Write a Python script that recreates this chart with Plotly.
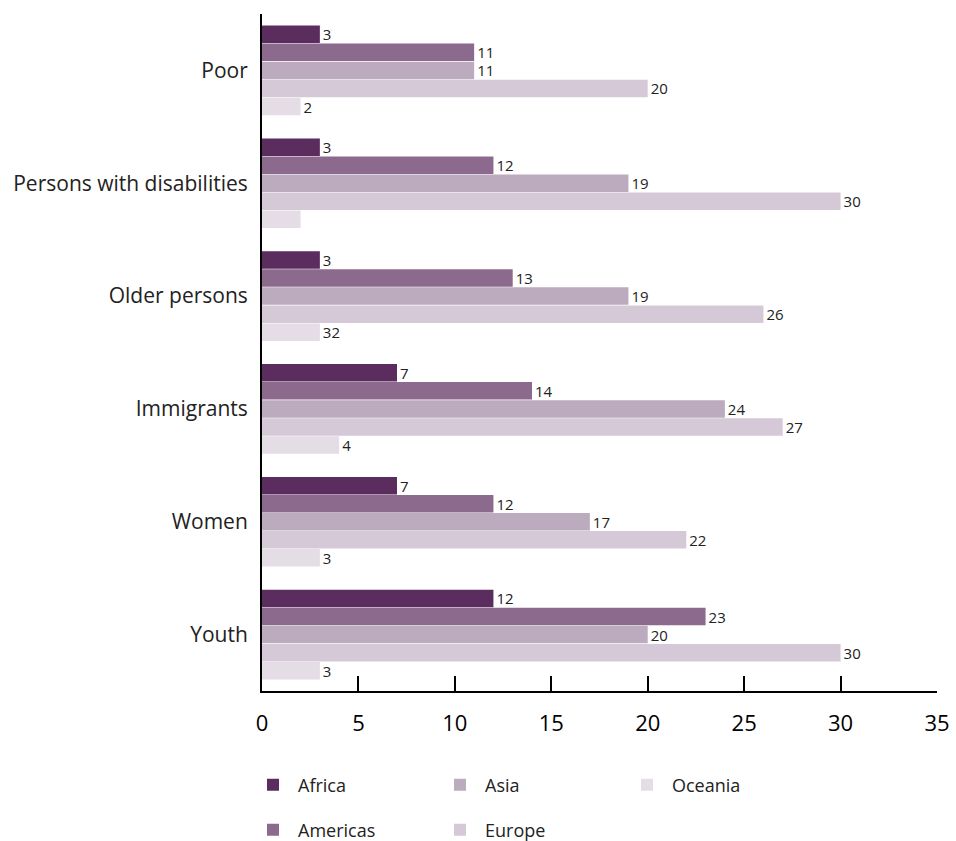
import plotly.graph_objects as go

categories = ["Poor", "Persons with disabilities", "Older persons", "Immigrants", "Women", "Youth"]
regions = ["Africa", "Americas", "Asia", "Europe", "Oceania"]
africa = [3, 3, 3, 7, 7, 12]
americas = [11, 12, 13, 14, 12, 23]
asia = [11, 19, 19, 24, 17, 20]
europe = [20, 30, 26, 27, 22, 30]
oceania = [2, 2, 3, 4, 3, 3]
# labels as printed in the source chart
africa_lbl = ["3", "3", "3", "7", "7", "12"]
americas_lbl = ["11", "12", "13", "14", "12", "23"]
asia_lbl = ["11", "19", "19", "24", "17", "20"]
europe_lbl = ["20", "30", "26", "27", "22", "30"]
oceania_lbl = ["2", "", "32", "4", "3", "3"]
x_ticks = [0, 5, 10, 15, 20, 25, 30, 35]

series = [africa, americas, asia, europe, oceania]
labels = [africa_lbl, americas_lbl, asia_lbl, europe_lbl, oceania_lbl]
colors = ["#5a2d5e", "#8c6a8e", "#bcaabe", "#d6c9d7", "#e5dde6"]
legend_ids = ["legend", "legend2", "legend", "legend2", "legend"]

FONT = "Open Sans"
fig = go.Figure()
for name, vals, lbl, col, lg in zip(regions, series, labels, colors, legend_ids):
    fig.add_trace(go.Bar(
        y=categories, x=vals, name=name, orientation="h",
        marker=dict(color=col, line=dict(width=0)),
        text=lbl, textposition="outside", cliponaxis=False, constraintext="none",
        textfont=dict(family=FONT, size=15, color="#222"),
        legend=lg,
    ))

leg_common = dict(orientation="h", xref="container", yref="container",
                  x=248 / 956, xanchor="left", yanchor="middle",
                  entrywidth=132, itemwidth=40, font=dict(size=18, color="#222"),
                  traceorder="normal", bgcolor="rgba(0,0,0,0)")

fig.update_layout(
    width=956, height=841,
    margin=dict(l=262, r=19, t=14, b=150, autoexpand=False),
    plot_bgcolor="white", paper_bgcolor="white",
    barmode="group", bargap=0.2, bargroupgap=0.03,
    font=dict(family=FONT, color="#222"),
    xaxis=dict(range=[0, 35], tickvals=x_ticks, ticks="inside", ticklen=15,
               tickwidth=2, tickcolor="black", showline=True, linecolor="black",
               linewidth=2, showgrid=False, zeroline=False,
               tickfont=dict(size=22, color="black"), ticklabelstandoff=12),
    yaxis=dict(autorange="reversed", showline=True, linecolor="black", linewidth=2,
               ticks="", showgrid=False, tickfont=dict(size=21, color="#222"),
               ticklabelstandoff=8),
    legend=dict(y=(841 - 785) / 841, **leg_common),
    legend2=dict(y=(841 - 830) / 841, **leg_common),
)

fig.write_html("out.html", config={"displayModeBar": False},
               post_script="document.body.style.margin='0px';")
